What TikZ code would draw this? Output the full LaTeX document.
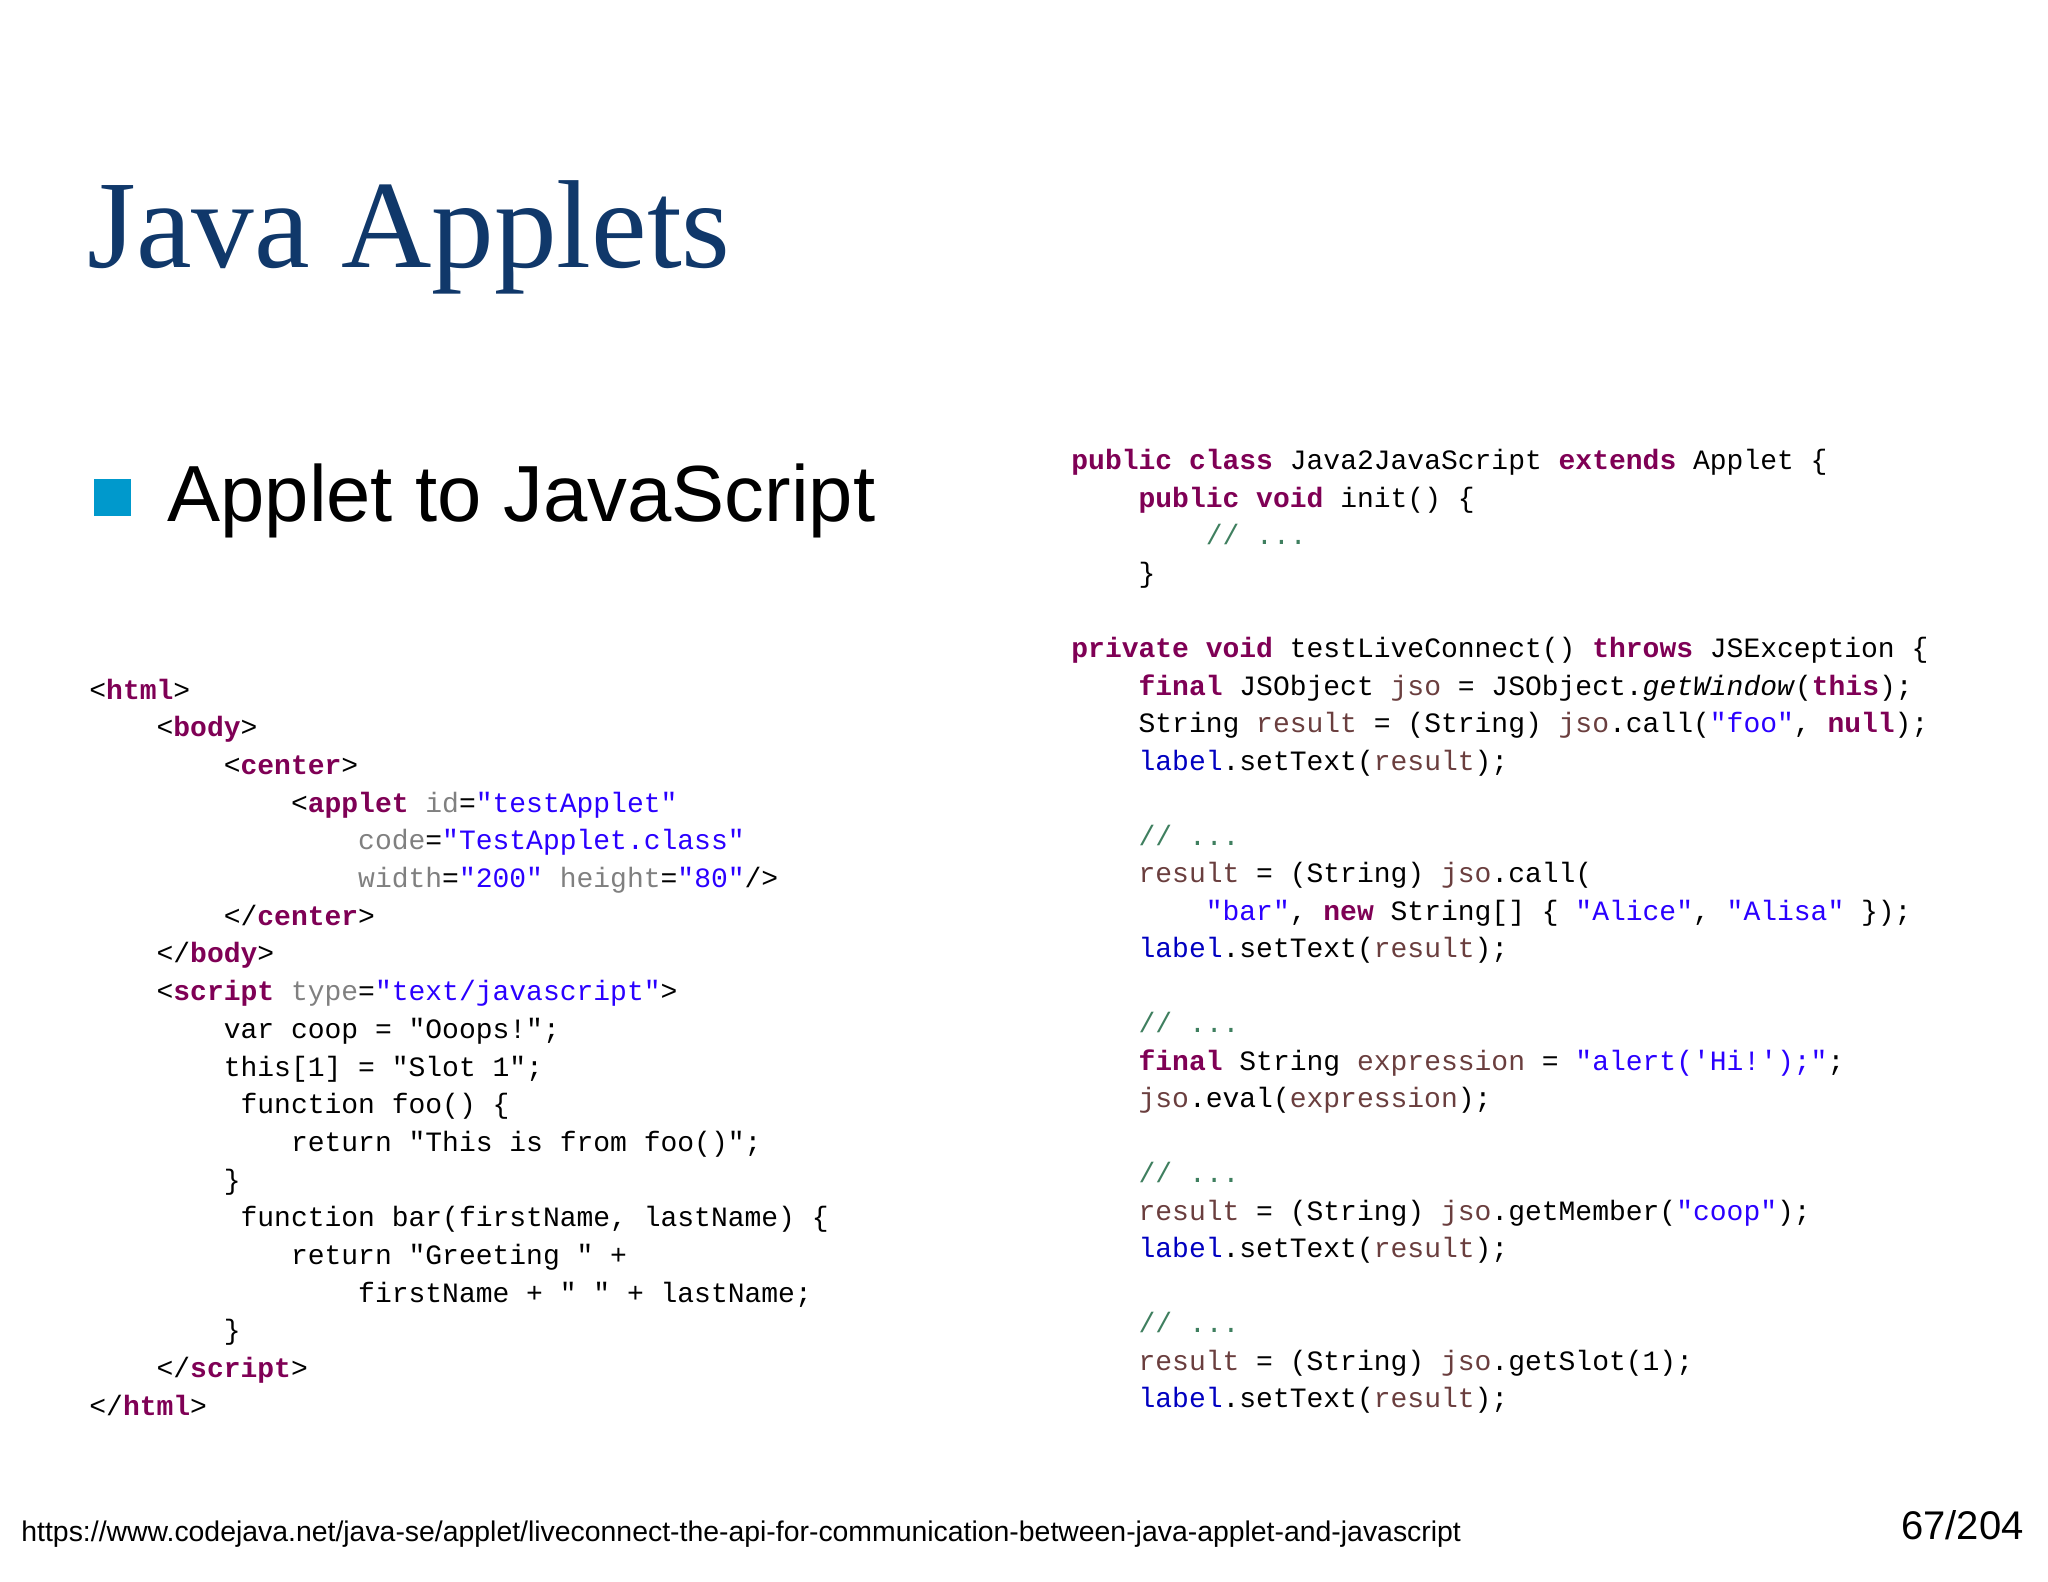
\documentclass[tikz,border=0pt]{standalone}
\usepackage{fontspec}
\setmainfont{Liberation Serif}
\newfontfamily\code{Liberation Mono}
\newfontfamily\arialf{Liberation Sans}
\definecolor{kwc}{RGB}{127,0,85}
\definecolor{stc}{RGB}{42,0,255}
\definecolor{atc}{RGB}{128,128,128}
\definecolor{cmc}{RGB}{63,127,95}
\definecolor{vrc}{RGB}{106,62,62}
\definecolor{lbc}{RGB}{0,0,192}
\definecolor{titc}{RGB}{16,56,106}
\definecolor{bulc}{RGB}{0,153,204}
\newcommand\kw[1]{\textcolor{kwc}{\bfseries #1}}
\newcommand\st[1]{\textcolor{stc}{#1}}
\newcommand\at[1]{\textcolor{atc}{#1}}
\newcommand\cm[1]{\textcolor{cmc}{#1}}
\newcommand\vr[1]{\textcolor{vrc}{#1}}
\newcommand\lb[1]{\textcolor{lbc}{#1}}
\begin{document}
\begin{tikzpicture}[x=0.5pt,y=-0.5pt,
  cd/.style={anchor=base west,inner sep=0pt,font=\code\fontsize{14pt}{16pt}\selectfont}]
\useasboundingbox (0,0) rectangle (2048,1582);
\node[anchor=base west,inner sep=0pt,text=titc,font=\fontsize{62.6pt}{72pt}\selectfont] (title) at (87,268) {Java Applets};
\fill[bulc] (94,479) rectangle (131,516);
\node[anchor=base west,inner sep=0pt,font=\arialf\fontsize{39.8pt}{46pt}\selectfont] (bul) at (167,522) {Applet to JavaScript};
% left code
\def\L{89}\def\T{699}\def\c{16.8}\def\d{37.7}
\node[cd] (l0) at (\L,\T) {<\kw{html}>};
\node[cd] (l1) at (\L+4*\c,\T+1*\d) {<\kw{body}>};
\node[cd] (l2) at (\L+8*\c,\T+2*\d) {<\kw{center}>};
\node[cd] (l3) at (\L+12*\c,\T+3*\d) {<\kw{applet} \at{id}=\st{"testApplet"}};
\node[cd] (l4) at (\L+16*\c,\T+4*\d) {\at{code}=\st{"TestApplet.class"}};
\node[cd] (l5) at (\L+16*\c,\T+5*\d) {\at{width}=\st{"200"} \at{height}=\st{"80"}/>};
\node[cd] (l6) at (\L+8*\c,\T+6*\d) {</\kw{center}>};
\node[cd] (l7) at (\L+4*\c,\T+7*\d) {</\kw{body}>};
\node[cd] (l8) at (\L+4*\c,\T+8*\d) {<\kw{script} \at{type}=\st{"text/javascript"}>};
\node[cd] (l9) at (\L+8*\c,\T+9*\d) {var coop = "Ooops!";};
\node[cd] (l10) at (\L+8*\c,\T+10*\d) {this[1] = "Slot 1";};
\node[cd] (l11) at (\L+9*\c,\T+11*\d) {function foo() \{};
\node[cd] (l12) at (\L+12*\c,\T+12*\d) {return "This is from foo()";};
\node[cd] (l13) at (\L+8*\c,\T+13*\d) {\}};
\node[cd] (l14) at (\L+9*\c,\T+14*\d) {function bar(firstName, lastName) \{};
\node[cd] (l15) at (\L+12*\c,\T+15*\d) {return "Greeting " +};
\node[cd] (l16) at (\L+16*\c,\T+16*\d) {firstName + " " + lastName;};
\node[cd] (l17) at (\L+8*\c,\T+17*\d) {\}};
\node[cd] (l18) at (\L+4*\c,\T+18*\d) {</\kw{script}>};
\node[cd] (l19) at (\L,\T+19*\d) {</\kw{html}>};
% right code
\def\R{1071}\def\U{470}\def\e{37.5}
\node[cd] (r0) at (\R,\U) {\kw{public} \kw{class} Java2JavaScript \kw{extends} Applet \{};
\node[cd] (r1) at (\R+4*\c,\U+1*\e) {\kw{public} \kw{void} init() \{};
\node[cd] (r2) at (\R+8*\c,\U+2*\e) {\cm{// ...}};
\node[cd] (r3) at (\R+4*\c,\U+3*\e) {\}};
\node[cd] (r5) at (\R,\U+5*\e) {\kw{private} \kw{void} testLiveConnect() \kw{throws} JSException \{};
\node[cd] (r6) at (\R+4*\c,\U+6*\e) {\kw{final} JSObject \vr{jso} = JSObject.\textit{getWindow}(\kw{this});};
\node[cd] (r7) at (\R+4*\c,\U+7*\e) {String \vr{result} = (String) \vr{jso}.call(\st{"foo"}, \kw{null});};
\node[cd] (r8) at (\R+4*\c,\U+8*\e) {\lb{label}.setText(\vr{result});};
\node[cd] (r10) at (\R+4*\c,\U+10*\e) {\cm{// ...}};
\node[cd] (r11) at (\R+4*\c,\U+11*\e) {\vr{result} = (String) \vr{jso}.call(};
\node[cd] (r12) at (\R+8*\c,\U+12*\e) {\st{"bar"}, \kw{new} String[] \{ \st{"Alice"}, \st{"Alisa"} \});};
\node[cd] (r13) at (\R+4*\c,\U+13*\e) {\lb{label}.setText(\vr{result});};
\node[cd] (r15) at (\R+4*\c,\U+15*\e) {\cm{// ...}};
\node[cd] (r16) at (\R+4*\c,\U+16*\e) {\kw{final} String \vr{expression} = \st{"alert('Hi!');"};};
\node[cd] (r17) at (\R+4*\c,\U+17*\e) {\vr{jso}.eval(\vr{expression});};
\node[cd] (r19) at (\R+4*\c,\U+19*\e) {\cm{// ...}};
\node[cd] (r20) at (\R+4*\c,\U+20*\e) {\vr{result} = (String) \vr{jso}.getMember(\st{"coop"});};
\node[cd] (r21) at (\R+4*\c,\U+21*\e) {\lb{label}.setText(\vr{result});};
\node[cd] (r23) at (\R+4*\c,\U+23*\e) {\cm{// ...}};
\node[cd] (r24) at (\R+4*\c,\U+24*\e) {\vr{result} = (String) \vr{jso}.getSlot(1);};
\node[cd] (r25) at (\R+4*\c,\U+25*\e) {\lb{label}.setText(\vr{result});};
% footer
\node[anchor=base west,inner sep=0pt,font=\arialf\fontsize{14.2pt}{16pt}\selectfont] (url) at (21,1541) {https://www.codejava.net/java-se/applet/liveconnect-the-api-for-communication-between-java-applet-and-javascript};
\node[anchor=base east,inner sep=0pt,font=\arialf\fontsize{20pt}{24pt}\selectfont] (pg) at (2024,1539) {67/204};
\end{tikzpicture}
\end{document}
